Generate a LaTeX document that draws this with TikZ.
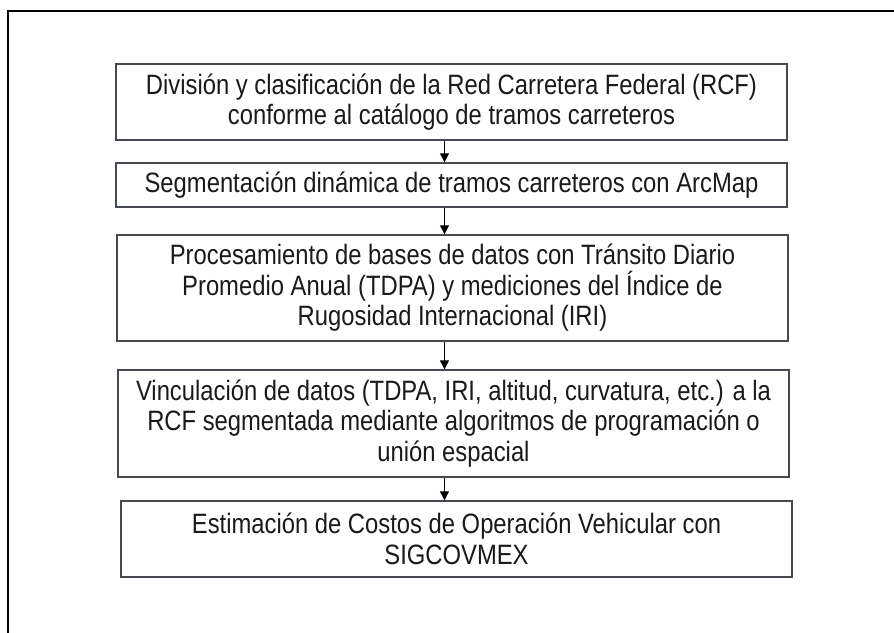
\documentclass[tikz,border=0pt]{standalone}
\usepackage{fontspec}
\setmainfont[FakeStretch=0.85]{Liberation Sans}
\usetikzlibrary{arrows.meta}
\definecolor{boxline}{HTML}{454A50}
\definecolor{txt}{HTML}{1A1A1A}
\tikzset{
  stepbox/.style={draw=boxline, line width=1.4pt, fill=white, minimum width=671pt,
    inner sep=0pt, align=center, text=txt, font=\fontsize{28}{30.5}\selectfont},
  flowarrow/.style={line width=1.1pt, -{Triangle[length=9pt,width=9pt]}},
  frameline/.style={line width=2pt, black}
}
\begin{document}
\begin{tikzpicture}[x=1pt,y=-1pt]
\useasboundingbox (0,0) rectangle (894,632);
\draw[frameline] (8,640) -- (8,11) -- (900,11);
\node[stepbox, minimum height=76pt] (b1) at (451.5,102)
  {División y clasificación de la Red Carretera Federal (RCF)\\conforme al catálogo de tramos carreteros};
\node[stepbox, minimum height=44pt] (b2) at (451.5,185)
  {Segmentación dinámica de tramos carreteros con ArcMap};
\node[stepbox, minimum height=106pt] (b3) at (452.5,288)
  {Procesamiento de bases de datos con Tránsito Diario\\Promedio Anual (TDPA) y mediciones del Índice de\\Rugosidad Internacional (IRI)};
\node[stepbox, minimum height=107pt] (b4) at (453.5,423.5)
  {Vinculación de datos (TDPA, IRI, altitud, curvatura, etc.) a la\\RCF segmentada mediante algoritmos de programación o\\unión espacial};
\node[stepbox, minimum height=76pt] (b5) at (456.5,539)
  {Estimación de Costos de Operación Vehicular con\\SIGCOVMEX};
\coordinate (ax) at (444.5,0);
\draw[flowarrow] (b1.south -| ax) -- (b2.north -| ax);
\draw[flowarrow] (b2.south -| ax) -- (b3.north -| ax);
\draw[flowarrow] (b3.south -| ax) -- (b4.north -| ax);
\draw[flowarrow] (b4.south -| ax) -- (b5.north -| ax);
\end{tikzpicture}
\end{document}
